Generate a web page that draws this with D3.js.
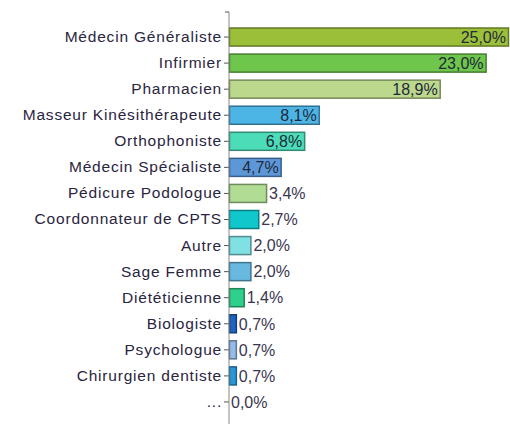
<!DOCTYPE html>
<html>
<head>
<meta charset="utf-8">
<script src="https://cdn.jsdelivr.net/npm/d3@7"></script>
<style>
  body { margin: 0; background: #fff; }
  svg text { font-family: "Liberation Sans", Arial, sans-serif; }
</style>
</head>
<body>
<div id="chart"></div>
<script>
// data
var categories = ["Médecin Généraliste", "Infirmier", "Pharmacien", "Masseur Kinésithérapeute",
  "Orthophoniste", "Médecin Spécialiste", "Pédicure Podologue", "Coordonnateur de CPTS",
  "Autre", "Sage Femme", "Diététicienne", "Biologiste", "Psychologue", "Chirurgien dentiste", "..."];
var values = [25.0, 23.0, 18.9, 8.1, 6.8, 4.7, 3.4, 2.7, 2.0, 2.0, 1.4, 0.7, 0.7, 0.7, 0.0];
var colors = ["#9cbf3a", "#6ec64c", "#bcd88c", "#4db4e6", "#4ddcb8", "#5d97d8", "#b0dc94",
  "#10c8cc", "#80e0e4", "#68b8e0", "#2ed08c", "#1e64c0", "#94bce8", "#2a98d8", "#cccccc"];

var width = 510, height = 424;
var margin = {left: 229};

var svg = d3.select("#chart").append("svg")
  .attr("width", width)
  .attr("height", height);

var x = d3.scaleLinear().domain([0, 25]).range([margin.left, 509]);
var y = d3.scaleBand().domain(categories).range([24, 415]).paddingInner(0.27).paddingOuter(0.135);

var rows = categories.map(function(c, i) { return {cat: c, val: values[i], col: colors[i]}; });

// bars
svg.append("g").selectAll("rect")
  .data(rows)
  .enter()
  .append("rect")
  .attr("x", x(0) + 0.5)
  .attr("y", function(d) { return y(d.cat) + 0.5; })
  .attr("width", function(d) { return Math.max(0, x(d.val) - x(0) - 1); })
  .attr("height", y.bandwidth() - 1)
  .attr("fill", function(d) { return d.col; })
  .attr("stroke", function(d) { return d3.color(d.col).darker(1.3); })
  .attr("stroke-width", 1.5)
  .style("display", function(d) { return d.val > 0 ? null : "none"; });

// value labels
svg.append("g").selectAll("text")
  .data(rows)
  .enter()
  .append("text")
  .attr("x", function(d) { return d.val >= 4.5 ? x(d.val) - 3 : x(d.val) + 2; })
  .attr("y", function(d) { return y(d.cat) + y.bandwidth() / 2; })
  .attr("dy", "0.36em")
  .attr("text-anchor", function(d) { return d.val >= 4.5 ? "end" : "start"; })
  .attr("font-size", 16)
  .attr("fill", function(d) { return d.val >= 4.5 ? "#1f2a3a" : "#3a3550"; })
  .text(function(d) { return d3.format(".1f")(d.val).replace(".", ",") + "%"; });

// axis
var axis = svg.append("g")
  .attr("transform", "translate(" + margin.left + ",0)")
  .call(d3.axisLeft(y).tickSize(5).tickSizeOuter(0).tickPadding(2));
axis.select(".domain").remove();
axis.selectAll("line").attr("stroke", "#555");
axis.selectAll("text")
  .attr("font-size", 15.5)
  .attr("letter-spacing", 0.8)
  .attr("fill", "#2a2540")
  .style("font-family", "'Liberation Sans', Arial, sans-serif");

svg.append("line")
  .attr("x1", margin.left).attr("x2", margin.left)
  .attr("y1", 12).attr("y2", height)
  .attr("stroke", "#888");
svg.append("line")
  .attr("x1", margin.left - 4).attr("x2", margin.left)
  .attr("y1", 12).attr("y2", 12)
  .attr("stroke", "#555");
</script>
</body>
</html>
